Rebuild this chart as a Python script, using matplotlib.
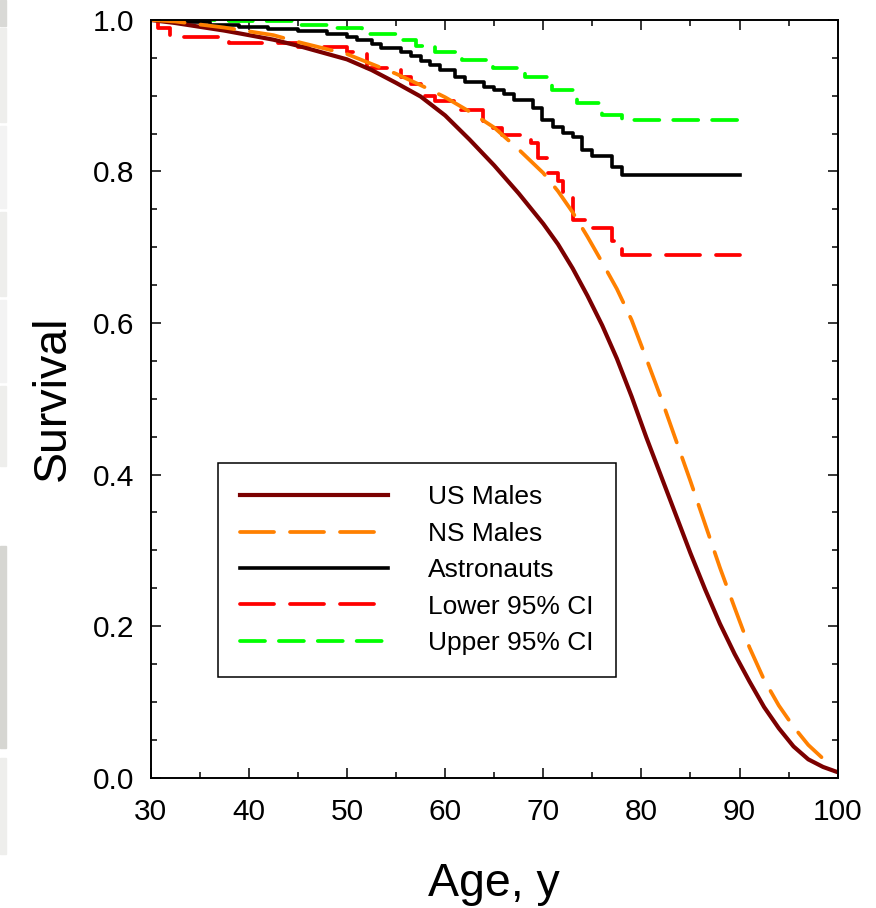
import matplotlib
matplotlib.use("Agg")
import matplotlib.pyplot as plt
from matplotlib.patches import Rectangle
from matplotlib.ticker import MultipleLocator, FormatStrFormatter

plt.rcParams['font.family'] = ['Liberation Sans', 'DejaVu Sans']
plt.rcParams['lines.scale_dashes'] = False

# Life-table survival from age 30
us_ages = [30, 32.5, 35, 37.5, 40, 42.5, 45, 47.5, 50, 52.5, 55, 57.5, 60, 62.5,
           65, 67.5, 70, 71.5, 73, 74.5, 76, 77.5, 79, 80.5, 82, 83.5, 85, 86.5,
           88, 89.5, 91, 92.5, 94, 95.5, 97, 98.5, 100]
us_males = [1.000, 0.996, 0.991, 0.986, 0.980, 0.974, 0.966, 0.957, 0.948, 0.934,
            0.917, 0.899, 0.874, 0.842, 0.808, 0.771, 0.731, 0.704, 0.672, 0.636,
            0.597, 0.553, 0.503, 0.449, 0.398, 0.347, 0.296, 0.248, 0.203, 0.163,
            0.127, 0.093, 0.065, 0.041, 0.024, 0.014, 0.007]
ns_ages = [30, 32.5, 35, 37.5, 40, 42.5, 45, 47.5, 50, 52.5, 55, 57.5, 60, 62.5,
           65, 67.5, 70, 71.5, 73, 74.5, 76, 77.5, 79, 80.5, 82, 83.5, 85, 86.5,
           88, 89.5, 91, 92.5, 94, 95.5, 97, 98.5, 99]
ns_males = [1.000, 0.998, 0.994, 0.990, 0.985, 0.980, 0.971, 0.963, 0.955, 0.942,
            0.929, 0.914, 0.898, 0.879, 0.858, 0.829, 0.798, 0.774, 0.746, 0.714,
            0.680, 0.645, 0.604, 0.553, 0.501, 0.446, 0.391, 0.334, 0.277, 0.224,
            0.172, 0.129, 0.095, 0.067, 0.043, 0.025, 0.020]

# Kaplan-Meier estimate for astronauts (step times and survival after each step)
astro_ages = [30, 33, 36, 39, 42, 45, 48, 50, 51, 52.5, 53.5, 55.5, 56.5, 57.5, 58.5,
              59.5, 61, 62, 64, 65, 66, 67, 69, 69.9, 71, 72, 73, 73.9, 75, 77, 78, 90]
astro_surv = [1.000, 0.997, 0.994, 0.991, 0.988, 0.985, 0.982, 0.977, 0.973, 0.968,
              0.963, 0.958, 0.952, 0.946, 0.940, 0.934, 0.925, 0.918, 0.912, 0.907,
              0.902, 0.895, 0.884, 0.868, 0.859, 0.851, 0.845, 0.828, 0.820, 0.806,
              0.795, 0.795]

lower_ages = [30, 30.7, 32, 38, 45, 50, 52, 55.5, 56.5, 57.5, 59, 61.5, 63.9, 64.9,
              65.8, 68.7, 69.5, 70.4, 71.5, 72, 73, 75.1, 77, 78, 90]
lower_ci = [1.000, 0.990, 0.977, 0.970, 0.964, 0.958, 0.936, 0.925, 0.915, 0.900,
            0.893, 0.881, 0.866, 0.857, 0.848, 0.838, 0.818, 0.798, 0.787, 0.773,
            0.736, 0.726, 0.708, 0.690, 0.690]

upper_ages = [30, 38, 45, 49, 51.5, 55.5, 57, 59, 61.7, 64.9, 68.1, 70.9, 73.4, 76,
              78, 90]
upper_ci = [1.000, 0.998, 0.994, 0.990, 0.981, 0.974, 0.966, 0.958, 0.947, 0.937,
            0.925, 0.908, 0.890, 0.875, 0.868, 0.868]

fig = plt.figure(figsize=(8.76, 9.08), dpi=100)
ax = fig.add_axes([0.172, 0.1437, 0.7843, 0.8343])

# grey strip along the left edge
for y0, y1, c in [(0, 26, '#d9d9d6'), (28, 122, '#eeeeec'), (126, 208, '#f3f3f3'),
                  (212, 296, '#eeeeec'), (300, 382, '#f3f3f3'), (386, 466, '#eeeeec'),
                  (546, 748, '#d6d6d2'), (758, 854, '#eeeeec')]:
    fig.patches.append(Rectangle((0, 1 - y1 / 908), 6 / 876, (y1 - y0) / 908,
                                 transform=fig.transFigure, color=c, zorder=0))

l_low, = ax.step(lower_ages, lower_ci, where='post', color='#ff0000', lw=2.7,
                 dashes=(24.5, 11.5), dash_capstyle='round', label='Lower 95% CI')
l_up, = ax.step(upper_ages, upper_ci, where='post', color='#00ff00', lw=2.7,
                dashes=(18, 10), dash_capstyle='round', label='Upper 95% CI')
l_ast, = ax.step(astro_ages, astro_surv, where='post', color='black', lw=2.6,
                 label='Astronauts')
l_us, = ax.plot(us_ages, us_males, color='#7b0000', lw=3.0, label='US Males')
l_ns, = ax.plot(ns_ages, ns_males, color='#ff8000', lw=2.7, dashes=(24.5, 11.5),
                dash_capstyle='round', label='NS Males')

ax.set_xlim(30, 100)
ax.set_ylim(0, 1.0)
ax.xaxis.set_major_locator(MultipleLocator(10))
ax.xaxis.set_minor_locator(MultipleLocator(5))
ax.yaxis.set_major_locator(MultipleLocator(0.2))
ax.yaxis.set_minor_locator(MultipleLocator(0.05))
ax.yaxis.set_major_formatter(FormatStrFormatter('%.1f'))
ax.tick_params(which='both', direction='in', top=True, right=True, width=1.1,
               labelsize=21.5)
ax.tick_params(which='major', length=7)
ax.tick_params(which='minor', length=4.5)
ax.tick_params(axis='x', pad=15)
ax.tick_params(axis='y', pad=12)
for sp in ax.spines.values():
    sp.set_linewidth(1.4)

ax.set_xlabel('Age, y', fontsize=33.5)
ax.set_ylabel('Survival', fontsize=33.5)
ax.xaxis.set_label_coords(0.5, -0.111)
ax.yaxis.set_label_coords(-0.110, 0.5)

leg = ax.legend(handles=[l_us, l_ns, l_ast, l_low, l_up], loc='upper left',
                bbox_to_anchor=(218 / 876, 1 - 463 / 908), bbox_transform=fig.transFigure,
                borderaxespad=0, fontsize=19, handlelength=5.6, handletextpad=1.5,
                borderpad=0.85, labelspacing=0.47, fancybox=False, framealpha=1,
                edgecolor='black')
leg.get_frame().set_linewidth(1.1)

fig.savefig('out.png', dpi=100)
